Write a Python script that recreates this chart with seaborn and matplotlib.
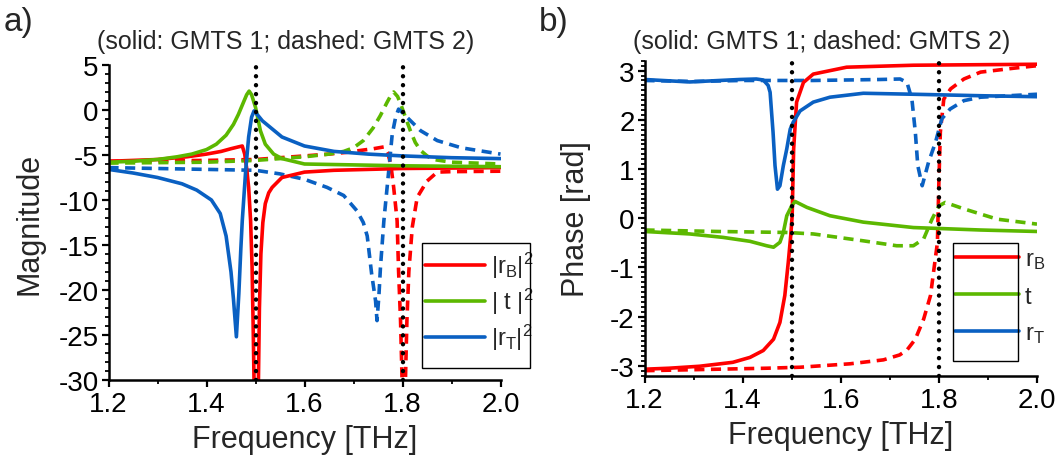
import numpy as np
import pandas as pd
import matplotlib
matplotlib.use("Agg")
import matplotlib.pyplot as plt
import seaborn as sns
from matplotlib.lines import Line2D
from matplotlib.patches import Rectangle
from matplotlib.ticker import MultipleLocator

# ---------------- data: panel a (magnitude, dB) ----------------
a_rB_s_f = [1.2, 1.3, 1.36, 1.4, 1.43, 1.45, 1.465, 1.473, 1.478, 1.482, 1.486, 1.49, 1.493, 1.495, 1.497, 1.5,
            1.503, 1.506, 1.508, 1.511, 1.515, 1.52, 1.527, 1.534, 1.554, 1.6, 1.66, 1.73, 1.8, 1.9, 2.0]
a_rB_s_v = [-5.7, -5.5, -5.2, -4.9, -4.6, -4.3, -4.1, -4.0, -4.9, -6.5, -8.6, -12.3, -17.4, -23.4, -30.0, -45.0,
            -40.0, -30.0, -22.0, -16.0, -12.5, -10.4, -9.2, -8.6, -7.5, -6.9, -6.7, -6.6, -6.5, -6.45, -6.4]

a_t_s_f = [1.2, 1.25, 1.3, 1.34, 1.37, 1.4, 1.42, 1.44, 1.455, 1.465, 1.475, 1.482, 1.487, 1.492, 1.5, 1.51,
           1.52, 1.537, 1.554, 1.6, 1.7, 1.8, 2.0]
a_t_s_v = [-5.8, -5.7, -5.5, -5.2, -4.9, -4.4, -3.8, -2.8, -1.6, -0.5, 0.8, 1.7, 2.1, 1.7, 0.3, -2.3,
           -3.8, -4.9, -5.4, -6.0, -6.1, -6.2, -6.3]

a_rT_s_f = [1.2, 1.25, 1.3, 1.35, 1.38, 1.41, 1.428, 1.44, 1.45, 1.455, 1.461, 1.466, 1.47, 1.473, 1.48, 1.486,
            1.492, 1.497, 1.505, 1.514, 1.534, 1.554, 1.6, 1.66, 1.73, 1.8, 1.9, 2.0]
a_rT_s_v = [-6.6, -7.0, -7.5, -8.2, -8.9, -10.0, -11.5, -14.0, -18.0, -21.0, -25.2, -20.4, -15.5, -12.3, -6.7, -3.0,
            -0.8, -0.1, -0.6, -1.2, -2.1, -3.0, -4.0, -4.6, -4.9, -5.1, -5.3, -5.4]

a_rB_d_f = [1.2, 1.4, 1.5, 1.6, 1.65, 1.687, 1.72, 1.741, 1.762, 1.77, 1.776, 1.782, 1.789, 1.792, 1.796, 1.799,
            1.802, 1.806, 1.809, 1.813, 1.82, 1.83, 1.85, 1.871, 1.9, 2.0]
a_rB_d_v = [-5.7, -5.6, -5.5, -5.1, -4.9, -4.7, -4.45, -4.3, -4.1, -4.8, -6.0, -8.6, -12.3, -17.9, -23.4, -29.7,
            -45.0, -30.0, -23.4, -17.9, -13.0, -9.7, -7.9, -6.9, -6.85, -6.8]

a_t_d_f = [1.2, 1.4, 1.5, 1.55, 1.6, 1.65, 1.68, 1.7, 1.72, 1.74, 1.755, 1.768, 1.777, 1.782, 1.79, 1.796,
           1.806, 1.816, 1.826, 1.837, 1.85, 1.863, 1.9, 2.0]
a_t_d_v = [-5.9, -5.8, -5.6, -5.4, -5.2, -4.9, -4.6, -4.2, -3.4, -2.0, -0.6, 0.8, 1.7, 2.0, 1.5, 0.7,
           -0.8, -2.3, -3.6, -4.5, -5.1, -5.5, -5.8, -6.0]

a_rT_d_f = [1.2, 1.3, 1.4, 1.5, 1.55, 1.6, 1.646, 1.68, 1.707, 1.72, 1.728, 1.737, 1.745, 1.748, 1.752, 1.755,
            1.762, 1.772, 1.779, 1.786, 1.792, 1.8, 1.809, 1.837, 1.871, 1.92, 2.0]
a_rT_d_v = [-6.4, -6.5, -6.6, -6.7, -7.1, -7.7, -8.6, -9.5, -11.2, -12.5, -14.0, -18.2, -21.2, -23.4, -20.5, -17.5,
            -12.3, -6.7, -2.7, -0.8, 0.1, -0.3, -0.8, -2.3, -3.4, -4.2, -4.9]

# ---------------- data: panel b (phase, rad) ----------------
b_rB_s_f = [1.2, 1.25, 1.312, 1.38, 1.415, 1.442, 1.463, 1.476, 1.486, 1.493, 1.498, 1.501, 1.504, 1.51, 1.524,
            1.544, 1.612, 1.748, 2.0]
b_rB_s_v = [-3.07, -3.05, -3.01, -2.93, -2.83, -2.69, -2.46, -2.12, -1.57, -0.9, -0.36, 0.05, 1.41, 2.36, 2.76,
            2.93, 3.07, 3.11, 3.13]

b_t_s_f = [1.2, 1.292, 1.36, 1.415, 1.449, 1.463, 1.476, 1.483, 1.49, 1.5, 1.507, 1.531, 1.578, 1.646, 1.748,
           1.885, 2.0]
b_t_s_v = [-0.27, -0.32, -0.39, -0.47, -0.56, -0.59, -0.49, -0.29, 0.05, 0.25, 0.34, 0.22, 0.05, -0.08, -0.19,
           -0.24, -0.27]

b_rT_s_f = [1.2, 1.292, 1.394, 1.428, 1.442, 1.452, 1.456, 1.462, 1.466, 1.471, 1.476, 1.483, 1.49, 1.497, 1.503,
            1.517, 1.544, 1.578, 1.646, 1.748, 1.885, 2.0]
b_rT_s_v = [2.82, 2.77, 2.82, 2.83, 2.81, 2.7, 2.56, 1.75, 1.07, 0.59, 0.66, 1.07, 1.41, 1.81, 1.95,
            2.18, 2.36, 2.46, 2.54, 2.52, 2.49, 2.47]

b_rB_d_f = [1.2, 1.3, 1.449, 1.517, 1.619, 1.687, 1.72, 1.735, 1.752, 1.769, 1.783, 1.79, 1.797, 1.8, 1.803,
            1.81, 1.824, 1.851, 1.885, 1.953, 2.0]
b_rB_d_v = [-3.1, -3.08, -3.05, -3.03, -2.96, -2.88, -2.78, -2.68, -2.46, -2.05, -1.57, -1.03, -0.5, 0.73, 1.75,
            2.42, 2.63, 2.83, 2.97, 3.05, 3.1]

b_t_d_f = [1.2, 1.35, 1.49, 1.544, 1.646, 1.714, 1.748, 1.769, 1.786, 1.8, 1.813, 1.851, 1.919, 2.0]
b_t_d_v = [-0.24, -0.27, -0.29, -0.32, -0.46, -0.56, -0.56, -0.42, -0.02, 0.25, 0.32, 0.19, -0.02, -0.12]

b_rT_d_f = [1.2, 1.3, 1.4, 1.544, 1.68, 1.721, 1.735, 1.745, 1.752, 1.757, 1.766, 1.779, 1.793, 1.806, 1.823,
            1.851, 1.885, 2.0]
b_rT_d_v = [2.8, 2.78, 2.8, 2.8, 2.82, 2.83, 2.76, 2.42, 1.75, 1.07, 0.66, 1.14, 1.54, 2.02, 2.22,
            2.39, 2.46, 2.52]

resonances = [1.5, 1.8]

legend_a = ["|r$_B$|$^2$", "| t |$^2$", "|r$_T$|$^2$"]
legend_b = ["r$_B$", "t", "r$_T$"]
title_text = "(solid: GMTS 1; dashed: GMTS 2)"

# ---------------- style ----------------
sns.set_style("ticks")
plt.rcParams["font.family"] = ["Liberation Sans", "DejaVu Sans"]
plt.rcParams["axes.unicode_minus"] = False
plt.rcParams["mathtext.default"] = "regular"

RED, GREEN, BLUE = "#FF0000", "#5CB800", "#0A60C2"
LW = 2.6
DASH = (0, (2.8, 1.8))

W, H = 1063, 460
fig = plt.figure(figsize=(W / 100, H / 100), dpi=100)


def px_axes(x0, x1, ytop, ybot):
    return [x0 / W, 1 - ybot / H, (x1 - x0) / W, (ybot - ytop) / H]


axA = fig.add_axes(px_axes(108.5, 500.5, 66, 381))
axB = fig.add_axes(px_axes(644.5, 1037, 61.8, 376.6))


def draw(ax, f, v, color, dashed):
    ls = DASH if dashed else "-"
    sns.lineplot(x=f, y=v, ax=ax, color=color, linewidth=LW, linestyle=ls,
                 estimator=None, sort=False, legend=False)


# panel a
draw(axA, a_rB_d_f, a_rB_d_v, RED, True)
draw(axA, a_t_d_f, a_t_d_v, GREEN, True)
draw(axA, a_rT_d_f, a_rT_d_v, BLUE, True)
draw(axA, a_rB_s_f, a_rB_s_v, RED, False)
draw(axA, a_t_s_f, a_t_s_v, GREEN, False)
draw(axA, a_rT_s_f, a_rT_s_v, BLUE, False)

# panel b
draw(axB, b_rB_d_f, b_rB_d_v, RED, True)
draw(axB, b_t_d_f, b_t_d_v, GREEN, True)
draw(axB, b_rT_d_f, b_rT_d_v, BLUE, True)
draw(axB, b_rB_s_f, b_rB_s_v, RED, False)
draw(axB, b_t_s_f, b_t_s_v, GREEN, False)
draw(axB, b_rT_s_f, b_rT_s_v, BLUE, False)

for ax in (axA, axB):
    for fr in resonances:
        ax.axvline(fr, color="black", lw=3.2, linestyle=(0, (0.01, 2.0)),
                   dash_capstyle="round", zorder=5)
    ax.set_xlim(1.2, 2.0)
    ax.xaxis.set_major_locator(MultipleLocator(0.2))
    ax.xaxis.set_minor_locator(MultipleLocator(0.1))
    ax.xaxis.set_major_formatter(matplotlib.ticker.FormatStrFormatter("%.1f"))
    for s in ("top", "right"):
        ax.spines[s].set_visible(False)
    for s in ("left", "bottom"):
        ax.spines[s].set_linewidth(1.8)
        ax.spines[s].set_color("black")
    ax.tick_params(which="major", direction="out", length=5, width=1.6, labelsize=20,
                   color="black", labelcolor="black")
    ax.tick_params(axis="y", which="major", pad=2)
    ax.tick_params(axis="x", which="major", pad=3)
    ax.tick_params(which="minor", direction="out", length=3, width=1.3, color="black")
    ax.set_xlabel("Frequency [THz]", fontsize=22, labelpad=5)
    ax.set_facecolor("white")
    ax.grid(False)

axA.set_ylim(-30, 5)
axA.yaxis.set_major_locator(MultipleLocator(5))
axA.yaxis.set_minor_locator(MultipleLocator(1))
axA.set_ylabel("Magnitude", fontsize=22, labelpad=10)

axB.set_ylim(-3.2, 3.2)
axB.yaxis.set_major_locator(MultipleLocator(1))
axB.yaxis.set_minor_locator(MultipleLocator(0.1))
axB.set_ylabel("Phase [rad]", fontsize=22, labelpad=14)

# legends (frameless, with a separate box as in the reference)
colors = [RED, GREEN, BLUE]


def make_legend(ax, labels, x_px, y_px, hl, spacing):
    handles = [Line2D([], [], color=c, lw=LW) for c in colors]
    leg = ax.legend(handles, labels, loc="upper left",
                    bbox_to_anchor=(x_px / W, 1 - y_px / H), bbox_transform=fig.transFigure,
                    frameon=False, fontsize=17, borderpad=0, borderaxespad=0,
                    handlelength=hl, handletextpad=0.25, labelspacing=spacing)
    return leg


make_legend(axA, legend_a, 425, 251, 2.55, 0.25)
make_legend(axB, legend_b, 955, 249, 2.7, 0.62)

fig.add_artist(Rectangle((422 / W, 1 - 369 / H), 108 / W, 125 / H, transform=fig.transFigure,
                         fill=False, edgecolor="black", lw=1.0))
fig.add_artist(Rectangle((953 / W, 1 - 362 / H), 65 / W, 118 / H, transform=fig.transFigure,
                         fill=False, edgecolor="black", lw=1.0))

# panel letters and titles
fig.text(4 / W, 1 - 23 / H, "a)", fontsize=24, ha="left", va="center")
fig.text(539 / W, 1 - 23 / H, "b)", fontsize=24, ha="left", va="center")
fig.text(286 / W, 1 - 42 / H, title_text, fontsize=18, ha="center", va="center")
fig.text(822 / W, 1 - 42 / H, title_text, fontsize=18, ha="center", va="center")

fig.savefig("out.png", dpi=100, facecolor="white")
